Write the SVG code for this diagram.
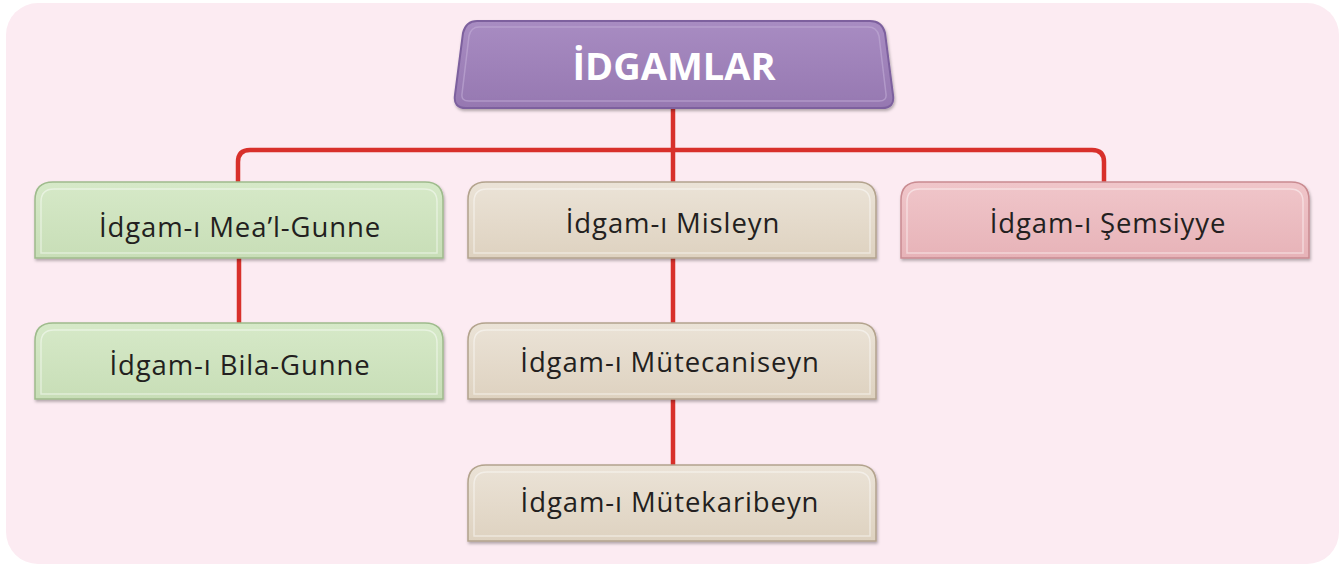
<svg xmlns="http://www.w3.org/2000/svg" width="1339" height="564" viewBox="0 0 1339 564">
<defs>
<linearGradient id="gPurple" x1="0" y1="0" x2="0" y2="1"><stop offset="0" stop-color="#a88cc2"/><stop offset="1" stop-color="#9678b1"/></linearGradient>
<linearGradient id="gGreen" x1="0" y1="0" x2="0" y2="1"><stop offset="0" stop-color="#d6e9c8"/><stop offset="1" stop-color="#c8deb7"/></linearGradient>
<linearGradient id="gBeige" x1="0" y1="0" x2="0" y2="1"><stop offset="0" stop-color="#ebe3d7"/><stop offset="1" stop-color="#ded2c0"/></linearGradient>
<linearGradient id="gRed" x1="0" y1="0" x2="0" y2="1"><stop offset="0" stop-color="#f0c6ca"/><stop offset="1" stop-color="#e7b3b8"/></linearGradient>
<filter id="sh" x="-5%" y="-10%" width="110%" height="130%"><feDropShadow dx="1" dy="2" stdDeviation="1.5" flood-color="#000" flood-opacity="0.3"/></filter>
<path id="box" d="M0 76 L0 18 Q0 0 18 0 L390 0 Q408 0 408 18 L408 76 Z"/>
<path id="inner" d="M6 71 L6 20 Q6 7 19 7 L389 7 Q402 7 402 20 L402 71 Z"/>
</defs>
<style>
.lbl{font-family:"Open Sans","Liberation Sans",sans-serif;font-size:27.5px;letter-spacing:0.9px;fill:#231f20;text-anchor:middle}
.title{font-family:"Open Sans","Liberation Sans",sans-serif;font-weight:bold;font-size:38px;fill:#fff;text-anchor:middle}
.conn{fill:none;stroke:#d8302b;stroke-width:4.5}
.in{fill:none;stroke:#fff;stroke-opacity:0.45;stroke-width:1.5}
.green use.o{fill:url(#gGreen);stroke:#9ebb8c;stroke-width:1.5}
.beige use.o{fill:url(#gBeige);stroke:#b3a38d;stroke-width:1.5}
.red use.o{fill:url(#gRed);stroke:#c98b91;stroke-width:1.5}
</style>
<rect x="6" y="3" width="1333" height="561" rx="32" fill="#fcebf2"/>
<g id="connectors">
<path class="conn" d="M673 106 V183"/>
<path class="conn" d="M238 183 V162 Q238 150 250 150 H1092 Q1104 150 1104 162 V183"/>
<path class="conn" d="M239 257 V325"/>
<path class="conn" d="M673 257 V466"/>
</g>
<g id="title">
<path d="M477 21 L870 21 Q882 21 885 33 L893 95 Q895 108 882 108 L466 108 Q453 108 455 95 L463 33 Q466 21 477 21 Z" fill="url(#gPurple)" stroke="#7d619e" stroke-width="2" filter="url(#sh)"/>
<path d="M479 27 L868 27 Q877 27 879 36 L886 94 Q887 101 879 101 L469 101 Q461 101 462 94 L469 36 Q471 27 479 27 Z" fill="none" stroke="#c2acd6" stroke-opacity="0.6" stroke-width="1.5"/>
<text class="title" x="674" y="80">İDGAMLAR</text>
</g>
<g id="n1" class="green" transform="translate(35,182)">
<use class="o" href="#box" filter="url(#sh)"/><use class="in" href="#inner"/>
<text class="lbl" x="205" y="55">İdgam-ı Mea’l-Gunne</text>
</g>
<g id="n2" class="green" transform="translate(35,323)">
<use class="o" href="#box" filter="url(#sh)"/><use class="in" href="#inner"/>
<text class="lbl" x="205" y="52">İdgam-ı Bila-Gunne</text>
</g>
<g id="n3" class="beige" transform="translate(468,182)">
<use class="o" href="#box" filter="url(#sh)"/><use class="in" href="#inner"/>
<text class="lbl" x="205" y="51">İdgam-ı Misleyn</text>
</g>
<g id="n4" class="beige" transform="translate(468,323)">
<use class="o" href="#box" filter="url(#sh)"/><use class="in" href="#inner"/>
<text class="lbl" x="202" y="49">İdgam-ı Mütecaniseyn</text>
</g>
<g id="n5" class="beige" transform="translate(468,465)">
<use class="o" href="#box" filter="url(#sh)"/><use class="in" href="#inner"/>
<text class="lbl" x="202" y="47">İdgam-ı Mütekaribeyn</text>
</g>
<g id="n6" class="red" transform="translate(901,182)">
<use class="o" href="#box" filter="url(#sh)"/><use class="in" href="#inner"/>
<text class="lbl" x="207" y="51">İdgam-ı Şemsiyye</text>
</g>
</svg>
